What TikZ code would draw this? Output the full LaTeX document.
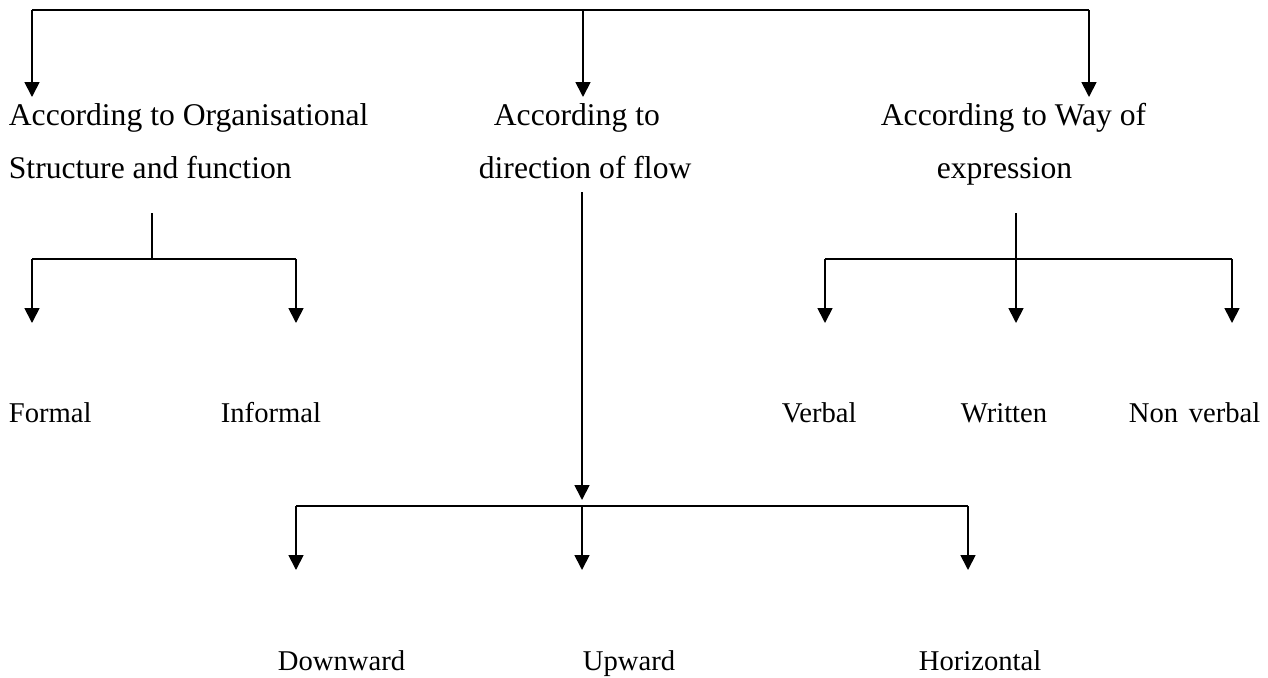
\documentclass[tikz,border=0pt]{standalone}
\usepackage{fontspec}
\setmainfont{Liberation Serif}
\usetikzlibrary{arrows.meta}
\begin{document}
\begin{tikzpicture}[x=0.02cm,y=-0.02cm,line width=1pt]
        % Styles
        \tikzstyle{head text}=[inner sep=0pt,font=\fontsize{18}{22}\selectfont]
        \tikzstyle{kind text}=[inner sep=0pt,font=\fontsize{16.3}{20}\selectfont]
        \tikzstyle{branch arrow}=[-{Triangle[length=0.3cm,width=0.3cm]}]
        \useasboundingbox (0,0) rectangle (1268,677);
        %the headings
        \node[head text,anchor=base west] (org1) at (8,125) {According to Organisational};
        \node[head text,anchor=base west] (org2) at (8,178) {Structure and function};
        \node[head text,anchor=base west] (dir1) at (493,125) {According to};
        \node[head text,anchor=base west] (dir2) at (478,178) {direction of flow};
        \node[head text,anchor=base west] (way1) at (880,125) {According to Way of};
        \node[head text,anchor=base west] (way2) at (936,178) {expression};
        %the kinds
        \node[kind text,anchor=base west] (formal) at (8,422) {Formal};
        \node[kind text,anchor=base west] (informal) at (220,422) {Informal};
        \node[kind text,anchor=base west] (verbal) at (781,422) {Verbal};
        \node[kind text,anchor=base west] (written) at (960,422) {Written};
        \node[kind text,anchor=base west] (nonverbal) at (1128,422) {Non\hspace{0.12em} verbal};
        \node[kind text,anchor=base west] (down) at (277,670) {Downward};
        \node[kind text,anchor=base west] (up) at (582,670) {Upward};
        \node[kind text,anchor=base west] (horiz) at (918,670) {Horizontal};
        %points
        \coordinate (topL) at (32,10);
        \coordinate (topM) at (583,10);
        \coordinate (topR) at (1089,10);
        \coordinate (orgS) at (152,213);
        \coordinate (orgB) at (152,259);
        \coordinate (dirS) at (582,192);
        \coordinate (dirB) at (582,506);
        \coordinate (wayS) at (1016,213);
        \coordinate (wayB) at (1016,259);
        %top bar
        \draw (topL) -- (topR);
        \foreach \p in {topL,topM,topR}
            \draw[branch arrow] (\p) -- ++(0,87);
        %organisational structure
        \draw (orgS) -- (orgB);
        \draw (32,259) coordinate (formalB) -- (296,259) coordinate (informalB);
        \foreach \p in {formalB,informalB}
            \draw[branch arrow] (\p) -- ++(0,64);
        %direction of flow
        \draw[branch arrow] (dirS) -- ++(0,308);
        \draw (296,506) coordinate (downB) -- (968,506) coordinate (horizB);
        \foreach \p in {downB,dirB,horizB}
            \draw[branch arrow] (\p) -- ++(0,64);
        %way of expression
        \draw (825,259) coordinate (verbalB) -- (1232,259) coordinate (nonverbalB);
        \draw[branch arrow] (wayS) -- (1016,323);
        \foreach \p in {verbalB,nonverbalB}
            \draw[branch arrow] (\p) -- ++(0,64);
\end{tikzpicture}
\end{document}
